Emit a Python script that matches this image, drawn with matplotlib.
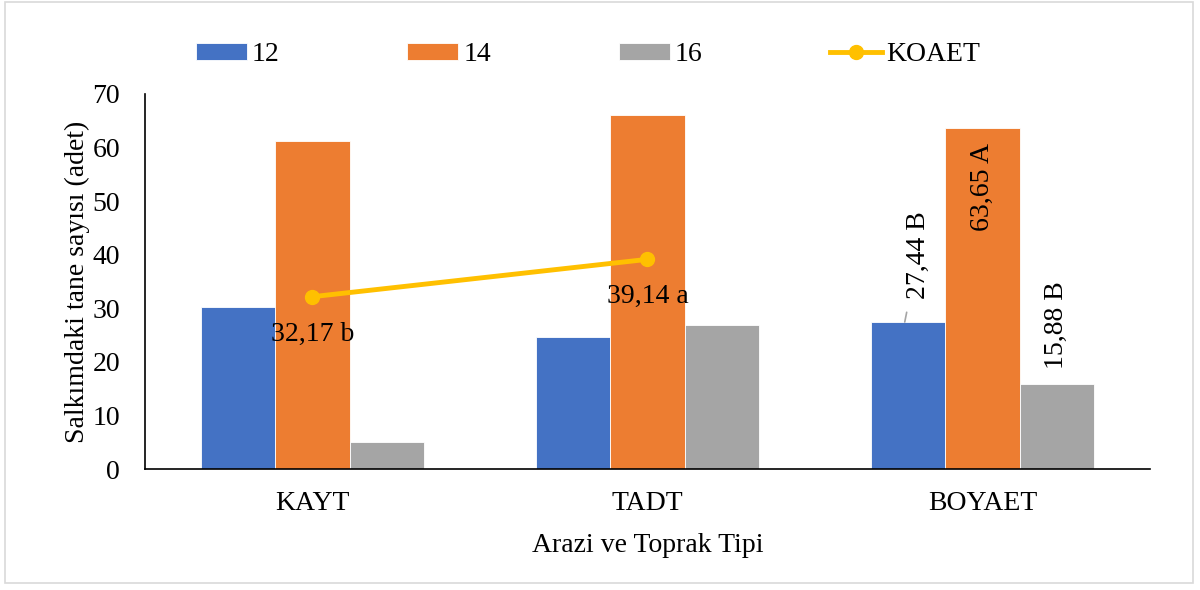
import matplotlib.pyplot as plt
import numpy as np
from matplotlib.patches import Rectangle

plt.rcParams['font.family'] = ['Liberation Serif', 'DejaVu Serif']

categories = ['KAYT', 'TADT', 'BOYAET']
series_names = ['12', '14', '16']
vals_12 = [30.2, 24.6, 27.44]
vals_14 = [61.2, 66.0, 63.65]
vals_16 = [5.0, 26.8, 15.88]
koaet = [32.17, 39.14]
koaet_labels = ['32,17 b', '39,14 a']
boyaet_labels = ['27,44 B', '63,65 A', '15,88 B']

colors = ['#4472C4', '#ED7D31', '#A5A5A5']
line_color = '#FFC000'
fs = 20

fig = plt.figure(figsize=(12, 5.9), dpi=100)
ax = fig.add_axes([0.1208, 0.205, 0.8375, 0.6357])

x = np.arange(len(categories))
w = 0.222
handles = []
for i, vals in enumerate([vals_12, vals_14, vals_16]):
    b = ax.bar(x + (i - 1) * w, vals, w, color=colors[i], edgecolor='white',
               linewidth=0.6, label=series_names[i], zorder=2)
    handles.append(b)

ln, = ax.plot(x[:2], koaet, color=line_color, lw=3.5, marker='o', ms=10,
              label='KOAET', zorder=3)
handles.append(ln)
for xi, v, t in zip(x[:2], koaet, koaet_labels):
    ax.annotate(t, (xi, v), xytext=(0, -27), textcoords='offset points',
                ha='center', va='center', fontsize=fs, zorder=4)

# rotated labels on the BOYAET group, first one with a leader line
j = 2
ax.annotate(boyaet_labels[0], (x[j] - w - 0.01, vals_12[j]),
            xytext=(x[j] - w + 0.03, 40.0), textcoords='data',
            rotation=90, ha='center', va='center', fontsize=fs,
            arrowprops=dict(arrowstyle='-', color='#A5A5A5', lw=1.2,
                            shrinkA=8, shrinkB=0))
ax.text(x[j], 52.6, boyaet_labels[1], rotation=90, ha='center', va='center',
        fontsize=fs, zorder=4)
ax.text(x[j] + w, 26.9, boyaet_labels[2], rotation=90, ha='center',
        va='center', fontsize=fs, zorder=4)

ax.set_xlim(-0.5, 2.5)
ax.set_ylim(0, 70)
ax.set_yticks(range(0, 71, 10))
ax.set_xticks(x)
ax.set_xticklabels(categories)
ax.tick_params(axis='both', labelsize=fs, length=0)
ax.tick_params(axis='x', pad=16)
ax.tick_params(axis='y', pad=18)
for s in ['top', 'right']:
    ax.spines[s].set_visible(False)
for s in ['left', 'bottom']:
    ax.spines[s].set_linewidth(1.2)
ax.set_xlabel('Arazi ve Toprak Tipi', fontsize=fs, labelpad=12)
ax.set_ylabel('Salkımdaki tane sayısı (adet)', fontsize=fs, labelpad=2)

fig.legend(handles=handles, loc='center', bbox_to_anchor=(0.49, 0.907), ncol=4,
           frameon=False, fontsize=fs, handlelength=1.84, handleheight=0.55,
           handletextpad=0.18, columnspacing=4.6)

fig.patches.append(Rectangle((0.004, 0.012), 0.99, 0.984, transform=fig.transFigure,
                             fill=False, edgecolor='#D9D9D9', lw=1.2))

fig.savefig('out.png', dpi=100)
